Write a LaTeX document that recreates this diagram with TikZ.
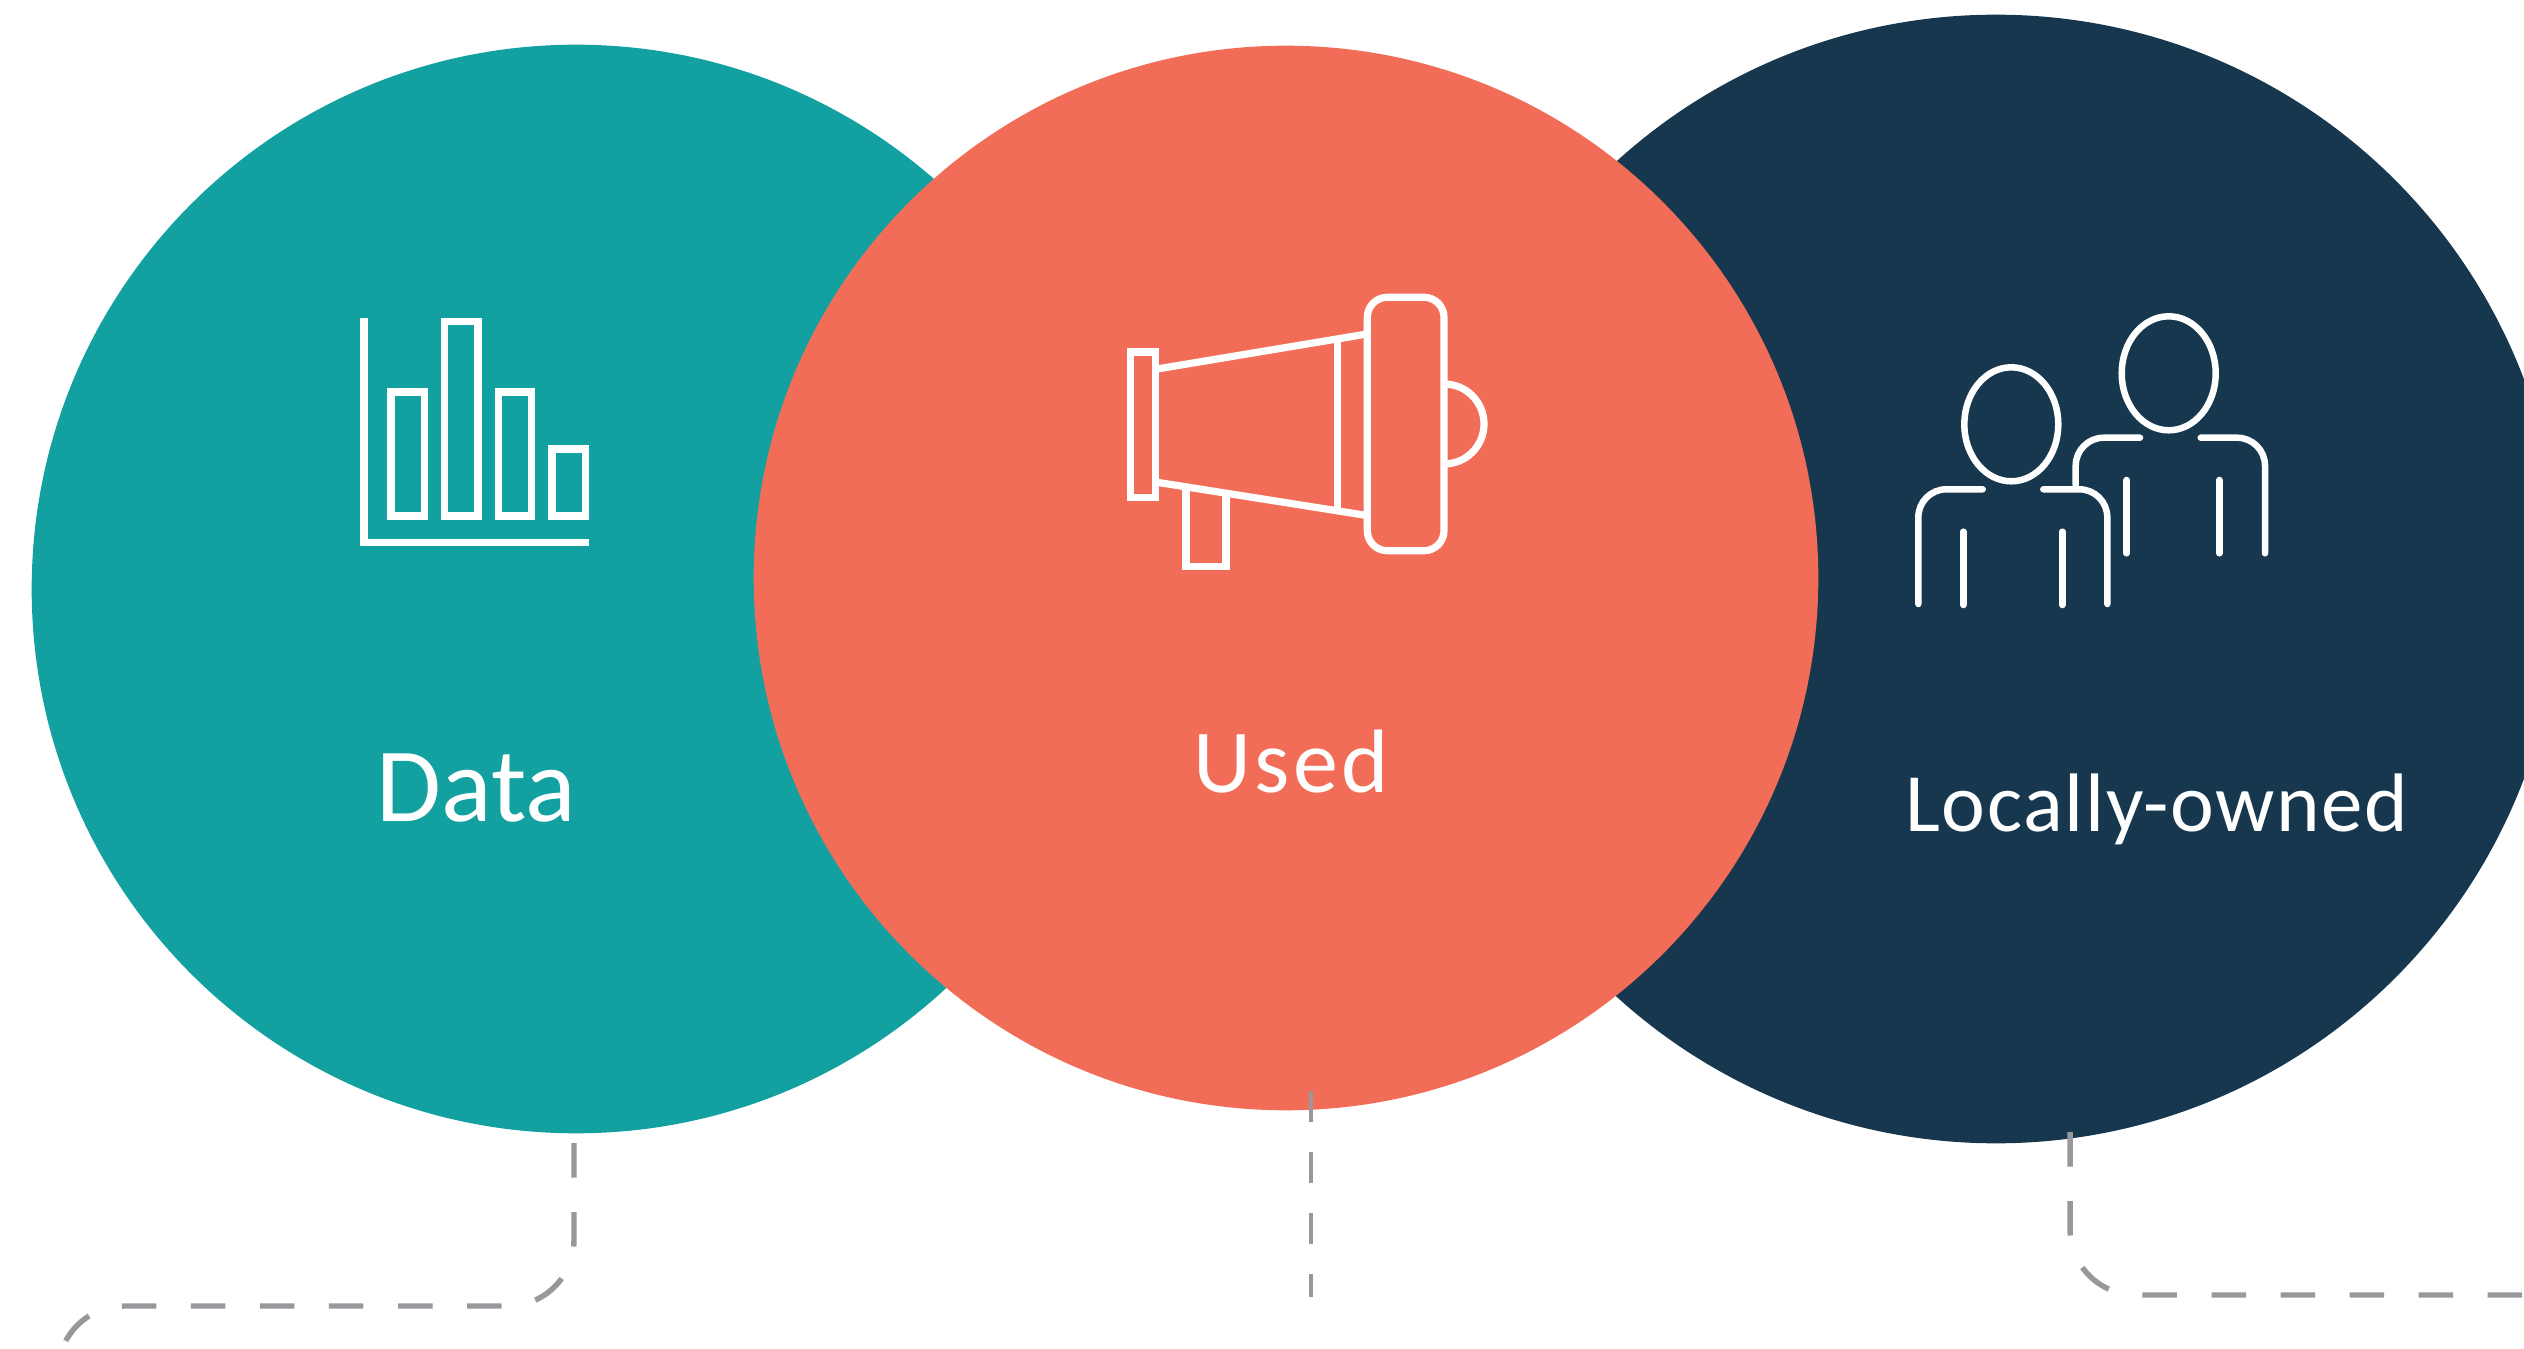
\documentclass[tikz,border=0pt]{standalone}
\usepackage{fontspec}
\setmainfont{Carlito}
\definecolor{tealc}{HTML}{12A0A0}
\definecolor{orangec}{HTML}{F26D57}
\definecolor{navyc}{HTML}{17374F}
\definecolor{dashc}{HTML}{98989C}
\tikzset{
  disc/.style={circle,draw=none,inner sep=0pt},
  label/.style={text=white,anchor=base,inner sep=0pt},
  iconline/.style={draw=white,line width=2.05pt,miter limit=10},
  personline/.style={draw=white,line width=1.85pt,line cap=round,line join=round},
  dashline/.style={draw=dashc,line width=1.55pt,dash pattern=on 0.345cm off 0.345cm},
  dashshort/.style={draw=dashc,line width=1.35pt,dash pattern=on 0.305cm off 0.305cm},
}
\begin{document}
\begin{tikzpicture}[x=0.01cm,y=-0.01cm]
\useasboundingbox (0,0) rectangle (2524,1349);
\clip (0,0) rectangle (2524,1349);
\node[disc,fill=tealc,minimum size=10.88cm] (teal) at (576,589) {};
\node[disc,fill=navyc,minimum size=11.28cm] (navy) at (1996,579) {};
\node[disc,fill=orangec,minimum size=10.64cm] (orange) at (1286,578) {};

% bar chart icon
\draw[iconline] (364,318) -- (364,542.7) -- (588.7,542.7);
\draw[iconline] (391,392) rectangle (424.3,516);
\draw[iconline] (444.7,321.7) rectangle (478,516);
\draw[iconline] (498.3,392) rectangle (531.7,516);
\draw[iconline] (552,449) rectangle (585.3,516);

% megaphone icon
\draw[iconline] (1130.7,352) rectangle (1155.3,497.3);
\draw[iconline] (1155.3,369.3) -- (1367,334);
\draw[iconline] (1155.3,482) -- (1367,515.5);
\draw[iconline] (1337.3,338) -- (1337.3,511);
\draw[iconline,rounded corners=0.2cm] (1367.3,297.3) rectangle (1444,550.7);
\draw[iconline] (1444,384) arc[start angle=-90,end angle=90,radius=40];
\draw[iconline] (1186,486.3) -- (1186,566.7) -- (1226,566.7) -- (1226,493);

% people icon
\draw[personline] (2011.3,424.3) ellipse[x radius=47,y radius=57];
\draw[personline] (2168.7,373.3) ellipse[x radius=47,y radius=57];
\draw[personline,rounded corners=0.28cm] (1918.3,604) -- (1918.3,489.3) -- (1982.7,489.3);
\draw[personline,rounded corners=0.28cm] (2043.3,489.3) -- (2107.3,489.3) -- (2107.3,604);
\draw[personline] (1963.3,531.7) -- (1963.3,605);
\draw[personline] (2062.3,531.7) -- (2062.3,605);
\draw[personline,rounded corners=0.28cm] (2075.7,485) -- (2075.7,437.7) -- (2140,437.7);
\draw[personline,rounded corners=0.28cm] (2200.7,437.7) -- (2265,437.7) -- (2265,553.3);
\draw[personline] (2126.7,480) -- (2126.7,553.3);
\draw[personline] (2219.3,480) -- (2219.3,553.3);

% labels
\node[label,font=\fontsize{30pt}{30pt}\selectfont] (datatext) at (476.5,821) {Data};
\node[label,font=\fontsize{25.6pt}{26pt}\selectfont\addfontfeature{LetterSpace=4}] (usedtext) at (1291,792) {Used};
\node[label,font=\fontsize{23.6pt}{24pt}\selectfont\addfontfeature{LetterSpace=2}] (ownedtext) at (2157,831) {Locally-owned};

% dashed connectors
\coordinate (a0) at (574,1143);
\coordinate (a1) at (574,1240);
\coordinate (a3) at (124,1306);
\coordinate (b0) at (1311,1091);
\coordinate (b1) at (1311,1297);
\coordinate (c0) at (2070,1132);
\coordinate (c1) at (2070,1229);
\coordinate (c2) at (2524,1295);
\draw[dashline] (a0) -- (a1) arc[start angle=0,end angle=90,radius=66] -- (a3) arc[start angle=-90,end angle=-180,radius=66];
\draw[dashshort] (b0) -- (b1);
\draw[dashline] (c0) -- (c1) arc[start angle=180,end angle=90,radius=66] -- (c2);
\end{tikzpicture}
\end{document}
